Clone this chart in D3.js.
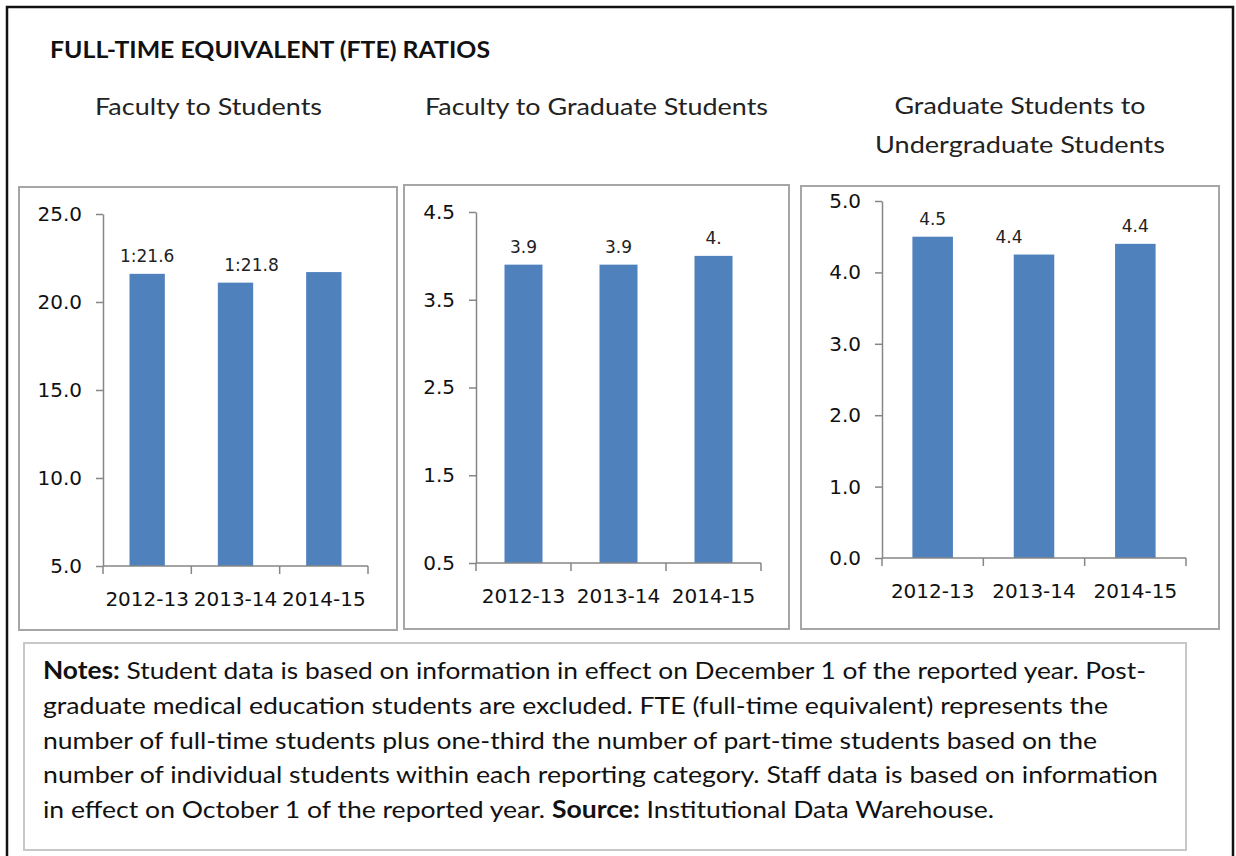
<!DOCTYPE html>
<html>
<head>
<meta charset="utf-8">
<script src="https://cdn.jsdelivr.net/npm/d3@7"></script>
<style>
  body { margin: 0; background: #fff; }
  svg { display: block; }
</style>
</head>
<body>
<script>
// chart data
var categories = ["2012-13", "2013-14", "2014-15"];

var facultyStudentValues = [21.6, 21.1, 21.7];
var facultyStudentLabels = ["1:21.6", "1:21.8", ""];
var facultyStudentTicks = [5, 10, 15, 20, 25];

var facultyGradValues = [3.9, 3.9, 4.0];
var facultyGradLabels = ["3.9", "3.9", "4."];
var facultyGradTicks = [0.5, 1.5, 2.5, 3.5, 4.5];

var gradUndergradValues = [4.5, 4.25, 4.4];
var gradUndergradLabels = ["4.5", "4.4", "4.4"];
var gradUndergradTicks = [0, 1, 2, 3, 4, 5];

var mainTitle = "FULL-TIME EQUIVALENT (FTE) RATIOS";

// note text, line by line as it wraps in the picture
var noteLines = [
  [{t: "Notes:", b: true}, {t: " Student data is based on information in effect on December 1 of the reported year. Post-"}],
  [{t: "graduate medical education students are excluded. FTE (full-time equivalent) represents the"}],
  [{t: "number of full-time students plus one-third the number of part-time students based on the"}],
  [{t: "number of individual students within each reporting category. Staff data is based on information"}],
  [{t: "in effect on October 1 of the reported year. "}, {t: "Source:", b: true}, {t: " Institutional Data Warehouse."}]
];
var noteEnds = [1146, 1108, 1097, 1158, 994];

var W = 1236, H = 856;
var barColor = "#4f81bd";
var axisColor = "#868686";
var textFont = "Lato, 'Open Sans', sans-serif";
var tickFont = "'DejaVu Sans', Verdana, sans-serif";

var svg = d3.select("body").append("svg")
    .attr("width", W)
    .attr("height", H);

// outer frame
svg.append("rect")
    .attr("x", 7).attr("y", 7)
    .attr("width", 1226).attr("height", 860)
    .attr("fill", "none")
    .attr("stroke", "#111")
    .attr("stroke-width", 2.5);

// main title
svg.append("text")
    .attr("x", 50).attr("y", 58)
    .attr("font-family", textFont)
    .attr("font-weight", "bold")
    .attr("font-size", 23)
    .attr("fill", "#111")
    .attr("textLength", 440)
    .attr("lengthAdjust", "spacingAndGlyphs")
    .text(mainTitle);

// panel layout
var panels = [
  {
    titles: [{t: "Faculty to Students", y: 115, len: 227}],
    center: 208.5,
    box: [19, 187, 397, 630],
    plot: [103, 214, 368, 566],
    values: facultyStudentValues, labels: facultyStudentLabels, ticks: facultyStudentTicks,
    labelShift: [0, 16, 0]
  },
  {
    titles: [{t: "Faculty to Graduate Students", y: 115, len: 343}],
    center: 596.5,
    box: [404, 185, 789, 629],
    plot: [476, 212, 761, 563],
    values: facultyGradValues, labels: facultyGradLabels, ticks: facultyGradTicks,
    labelShift: [0, 0, 0]
  },
  {
    titles: [{t: "Graduate Students to", y: 114, len: 251},
             {t: "Undergraduate Students", y: 153, len: 290}],
    center: 1020,
    box: [801, 186, 1219, 629],
    plot: [882, 201, 1186, 558],
    values: gradUndergradValues, labels: gradUndergradLabels, ticks: gradUndergradTicks,
    labelShift: [0, -25, 0]
  }
];

panels.forEach(function(p) {
  // subtitle(s)
  p.titles.forEach(function(tl) {
    svg.append("text")
        .attr("x", p.center).attr("y", tl.y)
        .attr("text-anchor", "middle")
        .attr("font-family", textFont)
        .attr("font-size", 24)
        .attr("fill", "#222")
        .attr("textLength", tl.len)
        .attr("lengthAdjust", "spacingAndGlyphs")
        .text(tl.t);
  });

  // chart box
  svg.append("rect")
      .attr("x", p.box[0]).attr("y", p.box[1])
      .attr("width", p.box[2] - p.box[0])
      .attr("height", p.box[3] - p.box[1])
      .attr("fill", "#fff")
      .attr("stroke", "#a6a6a6")
      .attr("stroke-width", 2);

  var x = d3.scaleBand()
      .domain(categories)
      .range([p.plot[0], p.plot[2]])
      .paddingInner(0.6)
      .paddingOuter(0.3);
  var y = d3.scaleLinear()
      .domain(d3.extent(p.ticks))
      .range([p.plot[3], p.plot[1]]);

  var g = svg.append("g");

  // bars
  g.selectAll(".bar")
      .data(p.values)
      .enter().append("rect")
      .attr("class", "bar")
      .attr("x", function(d, i) { return x(categories[i]); })
      .attr("width", x.bandwidth())
      .attr("y", function(d) { return y(d); })
      .attr("height", function(d) { return y.range()[0] - y(d); })
      .attr("fill", barColor);

  // data labels
  g.selectAll(".lbl")
      .data(p.values)
      .enter().append("text")
      .attr("class", "lbl")
      .attr("x", function(d, i) { return x(categories[i]) + x.bandwidth() / 2 + p.labelShift[i]; })
      .attr("y", function(d) { return y(d) - 12; })
      .attr("text-anchor", "middle")
      .attr("font-family", tickFont)
      .attr("font-size", 17)
      .attr("fill", "#222")
      .text(function(d, i) { return p.labels[i]; });

  // y axis
  var yAxis = g.append("g")
      .attr("transform", "translate(" + p.plot[0] + ",0)")
      .call(d3.axisLeft(y)
          .tickValues(p.ticks)
          .tickSize(7)
          .tickSizeOuter(0)
          .tickPadding(14)
          .tickFormat(d3.format(".1f")));
  yAxis.selectAll("path, line").attr("stroke", axisColor).attr("stroke-width", 1.5);
  yAxis.selectAll("text")
      .attr("font-family", tickFont)
      .attr("font-size", 20)
      .attr("fill", "#111");

  // x axis: line plus ticks at the band boundaries, labels at band centres
  var base = y.range()[0];
  g.append("line")
      .attr("x1", p.plot[0]).attr("x2", p.plot[2])
      .attr("y1", base).attr("y2", base)
      .attr("stroke", axisColor).attr("stroke-width", 1.5);
  var bounds = d3.range(categories.length + 1).map(function(i) { return p.plot[0] + i * x.step(); });
  g.selectAll(".xt")
      .data(bounds)
      .enter().append("line")
      .attr("class", "xt")
      .attr("x1", function(d) { return d; }).attr("x2", function(d) { return d; })
      .attr("y1", base).attr("y2", base + 8)
      .attr("stroke", axisColor).attr("stroke-width", 1.5);

  var xAxis = g.append("g")
      .attr("transform", "translate(0," + base + ")")
      .call(d3.axisBottom(x).tickSize(0).tickPadding(26));
  xAxis.select(".domain").remove();
  xAxis.selectAll("text")
      .attr("font-family", tickFont)
      .attr("font-size", 20)
      .attr("fill", "#111");
});

// notes box
svg.append("rect")
    .attr("x", 24).attr("y", 643)
    .attr("width", 1162).attr("height", 207)
    .attr("fill", "#fff")
    .attr("stroke", "#c8c8c8")
    .attr("stroke-width", 2);

noteLines.forEach(function(line, i) {
  var t = svg.append("text")
      .attr("x", 43)
      .attr("y", 679 + i * 34.8)
      .attr("font-family", textFont)
      .attr("font-size", 24)
      .attr("fill", "#111")
      .attr("textLength", noteEnds[i] - 43)
      .attr("lengthAdjust", "spacingAndGlyphs")
      .attr("xml:space", "preserve")
      .style("white-space", "pre");
  line.forEach(function(seg) {
    t.append("tspan")
        .attr("font-weight", seg.b ? "bold" : null)
        .text(seg.t);
  });
});
</script>
</body>
</html>
